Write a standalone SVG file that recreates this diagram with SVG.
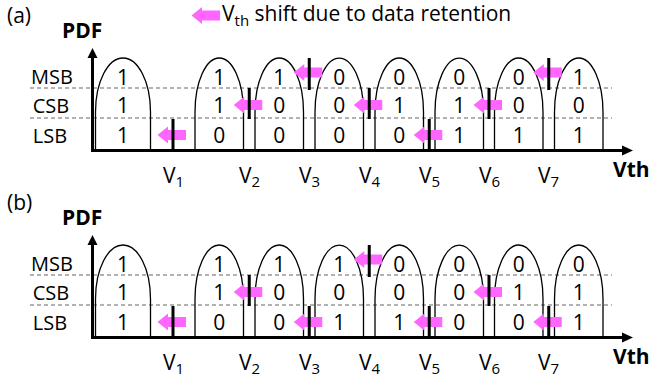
<svg xmlns="http://www.w3.org/2000/svg" xmlns:xlink="http://www.w3.org/1999/xlink" width="652" height="377" viewBox="0 0 652 377">
<style>
text{font-family:"Open Sans","Liberation Sans",sans-serif;fill:#000}
.t{font-size:21px}
.p{font-size:21px}
.d{font-size:21px;text-anchor:middle}
.lb{font-size:20px;text-anchor:middle}
.b{font-weight:bold;font-size:21px}
.sub{font-size:15px}
.arch{fill:none;stroke:#000;stroke-width:1.3}
.dash{stroke:#999;stroke-width:1.3;stroke-dasharray:4 3}
.ax{stroke:#000;stroke-width:3}
.bar{stroke:#000;stroke-width:3}
.pk{fill:#FF66FF}
</style>
<defs>
<path id="arr" class="pk" d="M-15.5,0 L-5,-8.5 L-5,-5 L13,-5 L13,5 L-5,5 L-5,8.5 Z"/>
<g id="base">
<line class="dash" x1="30" y1="88" x2="612" y2="88"/>
<line class="dash" x1="30" y1="118" x2="612" y2="118"/>
<path class="arch" d="M95.5,150.5 V112 A27.5,54 0 0 1 150.5,112 V150.5"/>
<path class="arch" d="M195,150.5 V112 A24.25,54 0 0 1 243.5,112 V150.5"/>
<path class="arch" d="M255,150.5 V112 A24.25,54 0 0 1 303.5,112 V150.5"/>
<path class="arch" d="M315,150.5 V112 A24.25,54 0 0 1 363.5,112 V150.5"/>
<path class="arch" d="M375,150.5 V112 A24.25,54 0 0 1 423.5,112 V150.5"/>
<path class="arch" d="M435,150.5 V112 A24.25,54 0 0 1 483.5,112 V150.5"/>
<path class="arch" d="M494.5,150.5 V112 A24.25,54 0 0 1 543,112 V150.5"/>
<path class="arch" d="M554.5,150.5 V112 A24.25,54 0 0 1 603,112 V150.5"/>
<line class="ax" x1="92.5" y1="57" x2="92.5" y2="152"/>
<polygon points="92.5,48 87.5,58 97.5,58"/>
<line class="ax" x1="91" y1="150.5" x2="624" y2="150.5"/>
<polygon points="633,150.5 622,145.5 622,155.5"/>
<text class="lb" x="52" y="84">MSB</text>
<text class="lb" x="51" y="113">CSB</text>
<text class="lb" x="50" y="143">LSB</text>
<text class="b" x="62" y="37.5">PDF</text>
<text class="b" x="613" y="177">Vth</text>
<text class="t" x="163" y="183">V<tspan class="sub" dy="4">1</tspan></text>
<text class="t" x="239" y="183">V<tspan class="sub" dy="4">2</tspan></text>
<text class="t" x="299" y="183">V<tspan class="sub" dy="4">3</tspan></text>
<text class="t" x="359" y="183">V<tspan class="sub" dy="4">4</tspan></text>
<text class="t" x="419" y="183">V<tspan class="sub" dy="4">5</tspan></text>
<text class="t" x="479" y="183">V<tspan class="sub" dy="4">6</tspan></text>
<text class="t" x="538" y="183">V<tspan class="sub" dy="4">7</tspan></text>
</g>
</defs>

<g id="legend">
<use xlink:href="#arr" href="#arr" x="207" y="15.5"/>
<text class="t" x="222" y="21">V<tspan class="sub" dy="4.5">th</tspan><tspan dy="-4.5"> shift due to data retention</tspan></text>
</g>

<g id="panel-a">
<text class="p" x="7" y="23">(a)</text>
<use xlink:href="#base" href="#base"/>
<g id="states-a">
<text class="d" x="123" y="84.5">1</text><text class="d" x="123" y="112.5">1</text><text class="d" x="123" y="142.5">1</text>
<text class="d" x="219.25" y="84.5">1</text><text class="d" x="219.25" y="112.5">1</text><text class="d" x="219.25" y="142.5">0</text>
<text class="d" x="279.25" y="84.5">1</text><text class="d" x="279.25" y="112.5">0</text><text class="d" x="279.25" y="142.5">0</text>
<text class="d" x="339.25" y="84.5">0</text><text class="d" x="339.25" y="112.5">0</text><text class="d" x="339.25" y="142.5">0</text>
<text class="d" x="399.25" y="84.5">0</text><text class="d" x="399.25" y="112.5">1</text><text class="d" x="399.25" y="142.5">0</text>
<text class="d" x="459.25" y="84.5">0</text><text class="d" x="459.25" y="112.5">1</text><text class="d" x="459.25" y="142.5">1</text>
<text class="d" x="518.75" y="84.5">0</text><text class="d" x="518.75" y="112.5">0</text><text class="d" x="518.75" y="142.5">1</text>
<text class="d" x="578.75" y="84.5">1</text><text class="d" x="578.75" y="112.5">0</text><text class="d" x="578.75" y="142.5">1</text>
</g>
<g id="connectors-a">
<use xlink:href="#arr" href="#arr" x="173" y="135"/>
<use xlink:href="#arr" href="#arr" x="249.25" y="105"/>
<use xlink:href="#arr" href="#arr" x="309.25" y="72.5"/>
<use xlink:href="#arr" href="#arr" x="369.25" y="105"/>
<use xlink:href="#arr" href="#arr" x="429.25" y="135"/>
<use xlink:href="#arr" href="#arr" x="489" y="105"/>
<use xlink:href="#arr" href="#arr" x="548.75" y="72.5"/>
<line class="bar" x1="173" y1="119" x2="173" y2="150"/>
<line class="bar" x1="249.25" y1="88" x2="249.25" y2="119"/>
<line class="bar" x1="309.25" y1="58" x2="309.25" y2="90"/>
<line class="bar" x1="369.25" y1="88" x2="369.25" y2="119"/>
<line class="bar" x1="429.25" y1="119" x2="429.25" y2="150"/>
<line class="bar" x1="489" y1="88" x2="489" y2="119"/>
<line class="bar" x1="548.75" y1="58" x2="548.75" y2="90"/>
</g>
</g>

<g id="panel-b" transform="translate(0,187)">
<text class="p" x="7" y="23">(b)</text>
<use xlink:href="#base" href="#base"/>
<g id="states-b">
<text class="d" x="123" y="84.5">1</text><text class="d" x="123" y="112.5">1</text><text class="d" x="123" y="142.5">1</text>
<text class="d" x="219.25" y="84.5">1</text><text class="d" x="219.25" y="112.5">1</text><text class="d" x="219.25" y="142.5">0</text>
<text class="d" x="279.25" y="84.5">1</text><text class="d" x="279.25" y="112.5">0</text><text class="d" x="279.25" y="142.5">0</text>
<text class="d" x="339.25" y="84.5">1</text><text class="d" x="339.25" y="112.5">0</text><text class="d" x="339.25" y="142.5">1</text>
<text class="d" x="399.25" y="84.5">0</text><text class="d" x="399.25" y="112.5">0</text><text class="d" x="399.25" y="142.5">1</text>
<text class="d" x="459.25" y="84.5">0</text><text class="d" x="459.25" y="112.5">0</text><text class="d" x="459.25" y="142.5">0</text>
<text class="d" x="518.75" y="84.5">0</text><text class="d" x="518.75" y="112.5">1</text><text class="d" x="518.75" y="142.5">0</text>
<text class="d" x="578.75" y="84.5">0</text><text class="d" x="578.75" y="112.5">1</text><text class="d" x="578.75" y="142.5">1</text>
</g>
<g id="connectors-b">
<use xlink:href="#arr" href="#arr" x="173" y="135"/>
<use xlink:href="#arr" href="#arr" x="249.25" y="105"/>
<use xlink:href="#arr" href="#arr" x="309.25" y="135"/>
<use xlink:href="#arr" href="#arr" x="369.25" y="72.5"/>
<use xlink:href="#arr" href="#arr" x="429.25" y="135"/>
<use xlink:href="#arr" href="#arr" x="489" y="105"/>
<use xlink:href="#arr" href="#arr" x="548.75" y="135"/>
<line class="bar" x1="173" y1="119" x2="173" y2="150"/>
<line class="bar" x1="249.25" y1="88" x2="249.25" y2="119"/>
<line class="bar" x1="309.25" y1="119" x2="309.25" y2="150"/>
<line class="bar" x1="369.25" y1="58" x2="369.25" y2="90"/>
<line class="bar" x1="429.25" y1="119" x2="429.25" y2="150"/>
<line class="bar" x1="489" y1="88" x2="489" y2="119"/>
<line class="bar" x1="548.75" y1="119" x2="548.75" y2="150"/>
</g>
</g>
</svg>
